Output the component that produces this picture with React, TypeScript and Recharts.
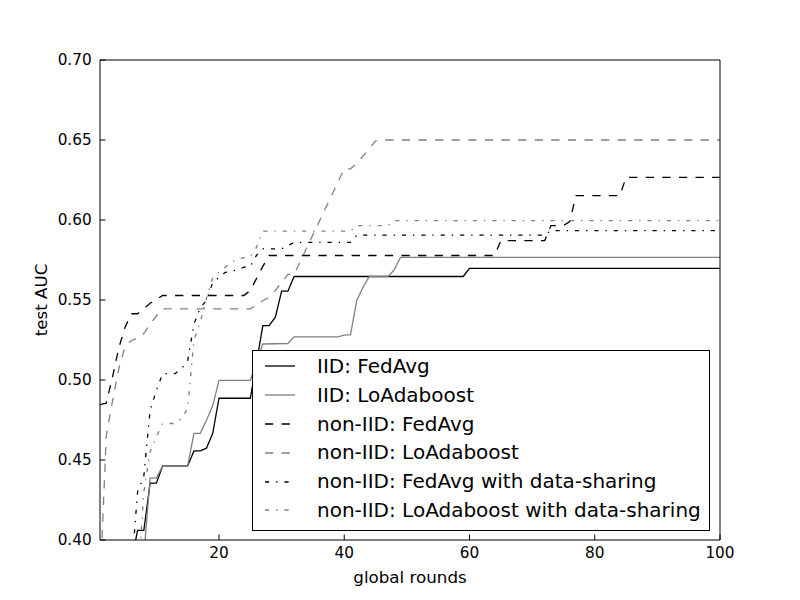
import React from 'react';
import { LineChart, Line, XAxis, YAxis, Legend, Label } from 'recharts';

type Pt = [number, number];

const FONT = '"DejaVu Sans", sans-serif';

const xTicks = [20, 40, 60, 80, 100];
const xTicksTop = [20, 40, 60, 80];
const yTicks = [0.4, 0.45, 0.5, 0.55, 0.6, 0.65, 0.7];

// [round, test AUC] at the rounds where a curve changes; straight lines in between
const iidFedAvg: Pt[] = [
  [6, 0.386], [7, 0.406], [8, 0.406], [9, 0.4355], [10, 0.4355], [11, 0.4463], [15, 0.4463],
  [16, 0.4557], [17, 0.4557], [18, 0.4574], [19, 0.4667], [20, 0.4886], [25, 0.4886], [26, 0.511],
  [27, 0.534], [28, 0.534], [29, 0.5393], [30, 0.5555], [31, 0.5555], [32, 0.5647], [59, 0.5647],
  [60, 0.5698], [100, 0.5698],
];

const iidLoAdaboost: Pt[] = [
  [8, 0.39], [9, 0.4387], [10, 0.4387], [11, 0.4463], [15, 0.4463], [16, 0.4667], [17, 0.4667],
  [18, 0.4749], [19, 0.484], [20, 0.4998], [25, 0.4998], [26, 0.511], [27, 0.5225], [31, 0.5228],
  [32, 0.527], [39, 0.527], [40, 0.528], [41, 0.5283], [42, 0.5497], [43, 0.558], [44, 0.5647],
  [47, 0.5647], [48, 0.569], [49, 0.5767], [100, 0.5767],
];

const nonIidFedAvg: Pt[] = [
  [1, 0.4846], [2, 0.4855], [3, 0.502], [4, 0.52], [5, 0.533], [6, 0.5414], [7, 0.5414],
  [8, 0.5445], [9, 0.548], [10, 0.5503], [11, 0.5528], [24, 0.5528], [25, 0.556], [26, 0.5635],
  [27, 0.571], [28, 0.5778], [64, 0.5778], [65, 0.5871], [72, 0.5871], [73, 0.5965], [75, 0.5965],
  [76, 0.599], [77, 0.6152], [84, 0.6152], [85, 0.6266], [100, 0.6266],
];

const nonIidLoAdaboost: Pt[] = [
  [1, 0.37], [2, 0.465], [3, 0.487], [4, 0.507], [5, 0.521], [6, 0.5247], [7, 0.526], [8, 0.529],
  [9, 0.535], [10, 0.54], [11, 0.5445], [25, 0.5445], [26, 0.547], [27, 0.5495], [28, 0.5517],
  [29, 0.556], [30, 0.561], [31, 0.566], [32, 0.566], [40, 0.632], [41, 0.632], [42, 0.6353],
  [43, 0.64], [44, 0.6445], [45, 0.6495], [46, 0.65], [100, 0.65],
];

const nonIidFedAvgShared: Pt[] = [
  [6, 0.38], [7, 0.43], [8, 0.44], [9, 0.481], [10, 0.4935], [11, 0.504], [13, 0.504], [14, 0.507],
  [15, 0.512], [16, 0.535], [17, 0.545], [18, 0.5497], [19, 0.561], [20, 0.564], [21, 0.5673],
  [22, 0.568], [23, 0.569], [24, 0.5705], [25, 0.571], [26, 0.578], [27, 0.582], [30, 0.582],
  [31, 0.584], [32, 0.586], [41, 0.586], [42, 0.5905], [72, 0.5905], [73, 0.5934], [100, 0.5934],
];

const nonIidLoAdaboostShared: Pt[] = [
  [7, 0.37], [8, 0.43], [9, 0.455], [10, 0.4645], [11, 0.4728], [13, 0.4728], [14, 0.476],
  [15, 0.482], [16, 0.525], [17, 0.536], [18, 0.551], [19, 0.564], [20, 0.5675], [21, 0.5705],
  [22, 0.5736], [23, 0.5757], [24, 0.5765], [25, 0.577], [26, 0.583], [27, 0.593], [41, 0.593],
  [42, 0.5965], [47, 0.5965], [48, 0.5996], [100, 0.5996],
];

const DASHED = '8.3 8.3';
const DASHDOT = '4.2 6.9 1.4 6.9';

const series = [
  { name: 'IID: FedAvg', pts: iidFedAvg, color: '#000000', dash: undefined },
  { name: 'IID: LoAdaboost', pts: iidLoAdaboost, color: '#808080', dash: undefined },
  { name: 'non-IID: FedAvg', pts: nonIidFedAvg, color: '#000000', dash: DASHED },
  { name: 'non-IID: LoAdaboost', pts: nonIidLoAdaboost, color: '#808080', dash: DASHED },
  { name: 'non-IID: FedAvg with data-sharing', pts: nonIidFedAvgShared, color: '#000000', dash: DASHDOT },
  { name: 'non-IID: LoAdaboost with data-sharing', pts: nonIidLoAdaboostShared, color: '#808080', dash: DASHDOT },
];

const toRows = (pts: Pt[]) => pts.map(([round, auc]) => ({ round, auc }));

const tickStyle = { fill: '#000', fontSize: 15.3, fontFamily: FONT };
const frame = { stroke: '#000', strokeWidth: 1 };

const renderLegend = () => (
  <div
    style={{
      width: 456,
      height: 178,
      border: '1px solid #000',
      background: '#fff',
      fontFamily: FONT,
      fontSize: 20,
      color: '#000',
      paddingTop: 1,
      boxSizing: 'content-box',
    }}
  >
    {series.map((s) => (
      <div key={s.name} style={{ display: 'flex', alignItems: 'center', height: 28.8, whiteSpace: 'nowrap' }}>
        <svg width={30} height={10} style={{ marginLeft: 12, marginRight: 22, flex: 'none' }}>
          <line x1={0} y1={5} x2={30} y2={5} stroke={s.color} strokeWidth={1.3} strokeDasharray={s.dash} />
        </svg>
        <span style={{ lineHeight: '28.8px' }}>{s.name}</span>
      </div>
    ))}
  </div>
);

const renderYLabel = (props: any) => {
  const vb = props.viewBox || {};
  const x = vb.x + 21;
  const y = vb.y + vb.height / 2;
  return (
    <text
      x={x}
      y={y}
      transform={`rotate(-90 ${x} ${y})`}
      textAnchor="middle"
      dominantBaseline="central"
      fill="#000"
      fontSize={16.7}
      fontFamily={FONT}
    >
      test AUC
    </text>
  );
};

export default function App() {
  return (
    <div style={{ position: 'absolute', left: 0, top: 0, background: '#fff' }}>
      <LineChart width={800} height={600} margin={{ top: 59, right: 79, bottom: 0, left: 20 }}>
        <XAxis
          dataKey="round"
          type="number"
          domain={[1, 100]}
          ticks={xTicks}
          allowDataOverflow
          height={60}
          tick={tickStyle}
          tickSize={-5.5}
          tickMargin={13}
          axisLine={frame}
          tickLine={frame}
          label={{ value: 'global rounds', position: 'insideBottom', offset: 17, fill: '#000', fontSize: 16.7, fontFamily: FONT }}
        />
        <XAxis
          xAxisId="top"
          orientation="top"
          type="number"
          domain={[1, 100]}
          ticks={xTicksTop}
          allowDataOverflow
          height={1}
          tick={false}
          tickSize={-5.5}
          axisLine={frame}
          tickLine={frame}
        />
        <YAxis
          type="number"
          domain={[0.4, 0.7]}
          ticks={yTicks}
          allowDataOverflow
          width={80}
          tick={tickStyle}
          tickFormatter={(v: number) => v.toFixed(2)}
          tickSize={-5.5}
          tickMargin={13.8}
          axisLine={frame}
          tickLine={frame}
        >
          <Label content={renderYLabel} />
        </YAxis>
        <YAxis
          yAxisId="right"
          orientation="right"
          type="number"
          domain={[0.4, 0.7]}
          ticks={yTicks.slice(1, -1)}
          allowDataOverflow
          width={1}
          tick={false}
          tickSize={-5.5}
          axisLine={frame}
          tickLine={frame}
        />
        {series.map((s) => (
          <Line
            key={s.name}
            name={s.name}
            data={toRows(s.pts)}
            dataKey="auc"
            type="linear"
            stroke={s.color}
            strokeWidth={1.3}
            strokeDasharray={s.dash}
            dot={false}
            activeDot={false}
            isAnimationActive={false}
          />
        ))}
        <Legend
          layout="vertical"
          align="center"
          verticalAlign="middle"
          content={renderLegend}
          wrapperStyle={{ left: 252, top: 350, width: 'auto', height: 'auto' }}
        />
      </LineChart>
    </div>
  );
}
